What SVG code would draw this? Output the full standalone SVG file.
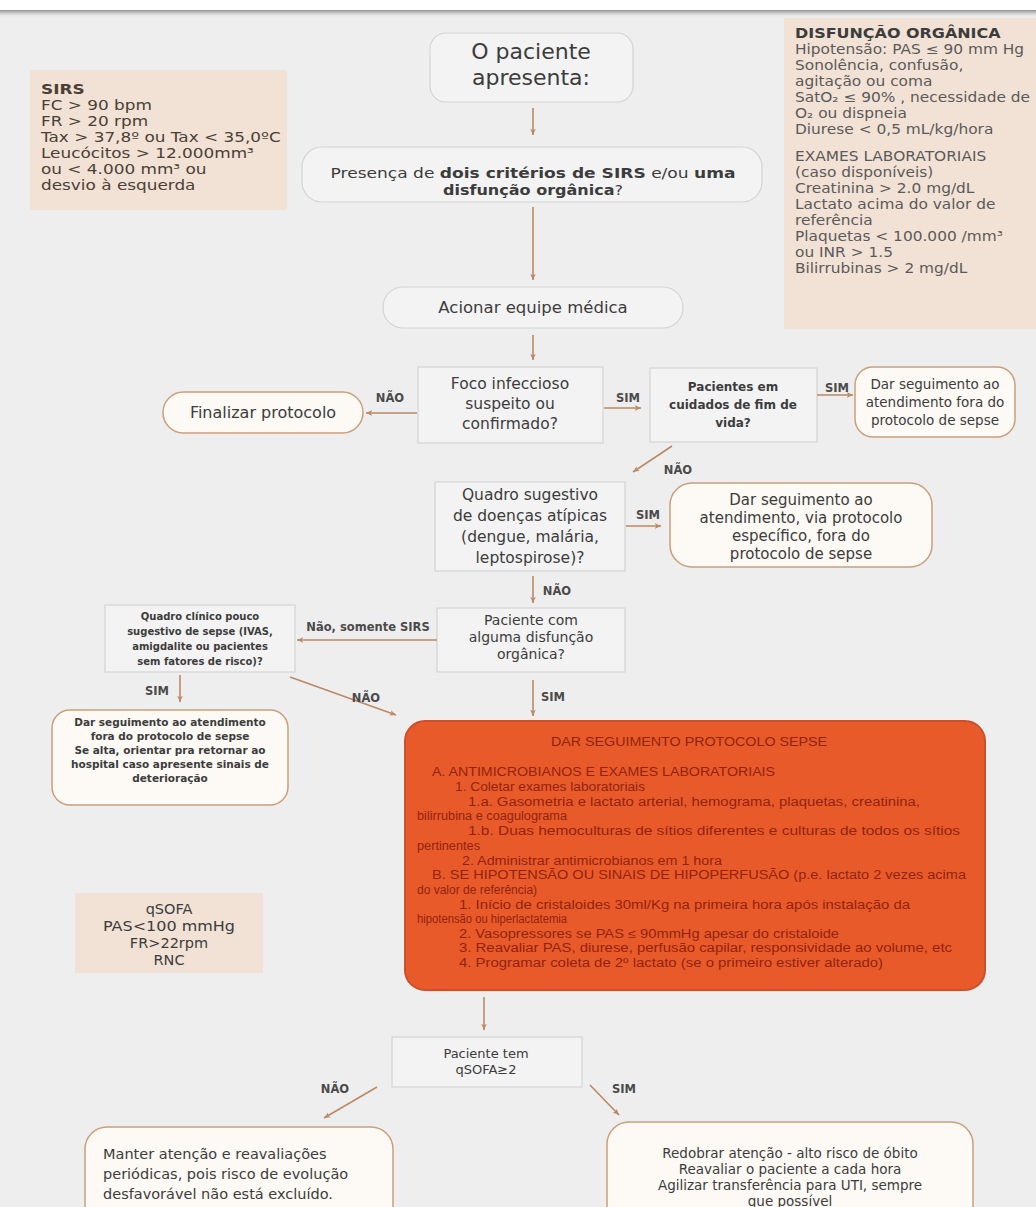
<svg xmlns="http://www.w3.org/2000/svg" width="1036" height="1207" viewBox="0 0 1036 1207">
<defs>
<linearGradient id="topshadow" x1="0" y1="0" x2="0" y2="1">
<stop offset="0" stop-color="#8e8e8e"/>
<stop offset="1" stop-color="#efeeee" stop-opacity="0"/>
</linearGradient>
<marker id="ah" viewBox="0 0 10 10" refX="9" refY="5" markerWidth="7" markerHeight="7" orient="auto" markerUnits="userSpaceOnUse">
<path d="M0,1 L9,5 L0,9 L2.5,5 Z" fill="#b98a66"/>
</marker>
<style>
.t{font-family:"DejaVu Sans","Liberation Sans",sans-serif;fill:#3c3c3c}
.c{text-anchor:middle}
.b{font-weight:700}
.lbl{font-family:"DejaVu Sans","Liberation Sans",sans-serif;font-weight:700;font-size:11.5px;fill:#4a4a4a;text-anchor:middle}
.gray{fill:#f3f3f3;stroke:#d4d4d4;stroke-width:1.2}
.cream{fill:#fdf9f4;stroke:#c9a07c;stroke-width:1.5}
.peach{fill:#f2e2d5}
.conn line{stroke:#b98a66;stroke-width:1.6;marker-end:url(#ah)}
.red{font-family:"Liberation Sans",Arial,sans-serif;font-size:12px;fill:#92230e}
.rt{font-family:"DejaVu Sans","Liberation Sans",sans-serif;fill:#5a5a5a;font-size:13.5px}
.st{font-family:"DejaVu Sans","Liberation Sans",sans-serif;fill:#4a4036;font-size:13.5px}
</style>
</defs>
<rect x="0" y="0" width="1036" height="1207" fill="#efeeee"/>
<rect x="0" y="0" width="1036" height="10" fill="#ffffff"/>
<rect x="0" y="10" width="1036" height="8" fill="url(#topshadow)"/>

<g id="sirs">
<rect class="peach" x="30" y="70" width="257" height="140"/>
<g transform="translate(41,0) scale(1.25,1)">
<text class="st b" x="0" y="94">SIRS</text>
<text class="st" x="0" y="110">FC &gt; 90 bpm</text>
<text class="st" x="0" y="126">FR &gt; 20 rpm</text>
<text class="st" x="0" y="142">Tax &gt; 37,8º ou Tax &lt; 35,0ºC</text>
<text class="st" x="0" y="158">Leucócitos &gt; 12.000mm³</text>
<text class="st" x="0" y="174">ou  &lt; 4.000 mm³ ou</text>
<text class="st" x="0" y="190">desvio à esquerda</text>
</g>
</g>

<g id="disfuncao">
<rect class="peach" x="784" y="18" width="252" height="311"/>
<g transform="translate(795,0) scale(1.14,1)">
<text class="t b" x="0" y="38" font-size="14" fill="#444">DISFUNÇÃO ORGÂNICA</text>
<text class="rt" x="0" y="54">Hipotensão: PAS ≤ 90 mm Hg</text>
<text class="rt" x="0" y="70">Sonolência, confusão,</text>
<text class="rt" x="0" y="86">agitação ou coma</text>
<text class="rt" x="0" y="102">SatO₂ ≤ 90% , necessidade de</text>
<text class="rt" x="0" y="118">O₂ ou dispneia</text>
<text class="rt" x="0" y="134">Diurese &lt; 0,5 mL/kg/hora</text>
<text class="rt" x="0" y="161">EXAMES LABORATORIAIS</text>
<text class="rt" x="0" y="177">(caso disponíveis)</text>
<text class="rt" x="0" y="193">Creatinina &gt; 2.0 mg/dL</text>
<text class="rt" x="0" y="209">Lactato acima do valor de</text>
<text class="rt" x="0" y="225">referência</text>
<text class="rt" x="0" y="241">Plaquetas &lt; 100.000 /mm³</text>
<text class="rt" x="0" y="257">ou INR &gt; 1.5</text>
<text class="rt" x="0" y="273">Bilirrubinas &gt; 2 mg/dL</text>
</g>
</g>

<g id="paciente">
<rect class="gray" x="430" y="33" width="203" height="69" rx="16"/>
<text class="t c" x="531" y="59" font-size="22">O paciente</text>
<text class="t c" x="531" y="85" font-size="22">apresenta:</text>
</g>

<g id="presenca">
<rect class="gray" x="302" y="147" width="460" height="55" rx="20"/>
<text class="t c" x="533" y="178" font-size="14.5" textLength="405" lengthAdjust="spacingAndGlyphs">Presença de <tspan class="b">dois critérios de SIRS</tspan> e/ou <tspan class="b">uma</tspan></text>
<text class="t c" x="533" y="195" font-size="14.5" textLength="180" lengthAdjust="spacingAndGlyphs"><tspan class="b">disfunção orgânica</tspan>?</text>
</g>

<g id="acionar">
<rect class="gray" x="383" y="287" width="300" height="41" rx="20"/>
<text class="t c" x="533" y="313" font-size="16.5">Acionar equipe médica</text>
</g>

<g id="foco">
<rect class="gray" x="418" y="367" width="185" height="76"/>
<text class="t c" x="510" y="389" font-size="15.5">Foco infeccioso</text>
<text class="t c" x="510" y="409" font-size="15.5">suspeito ou</text>
<text class="t c" x="510" y="429" font-size="15.5">confirmado?</text>
</g>

<g id="finalizar">
<rect class="cream" x="163" y="392" width="200" height="41" rx="20.5"/>
<text class="t c" x="263" y="418" font-size="16">Finalizar protocolo</text>
</g>

<g id="fimdevida">
<rect class="gray" x="650" y="368" width="167" height="74"/>
<text class="t c b" x="733" y="391" font-size="12">Pacientes em</text>
<text class="t c b" x="733" y="409" font-size="12">cuidados de fim de</text>
<text class="t c b" x="733" y="427" font-size="12">vida?</text>
</g>

<g id="seguimento1">
<rect class="cream" x="855" y="367" width="160" height="70" rx="18"/>
<text class="t c" x="935" y="389" font-size="13.5">Dar seguimento ao</text>
<text class="t c" x="935" y="407" font-size="13.5">atendimento fora do</text>
<text class="t c" x="935" y="425" font-size="13.5">protocolo de sepse</text>
</g>

<g id="atipicas">
<rect class="gray" x="435" y="482" width="190" height="89"/>
<text class="t c" x="530" y="500" font-size="15.5">Quadro  sugestivo</text>
<text class="t c" x="530" y="521" font-size="15.5">de doenças atípicas</text>
<text class="t c" x="530" y="542" font-size="15.5">(dengue, malária,</text>
<text class="t c" x="530" y="563" font-size="15.5">leptospirose)?</text>
</g>

<g id="seguimento2">
<rect class="cream" x="670" y="483" width="262" height="84" rx="22"/>
<text class="t c" x="801" y="505" font-size="15">Dar seguimento ao</text>
<text class="t c" x="801" y="523" font-size="15">atendimento, via protocolo</text>
<text class="t c" x="801" y="541" font-size="15">específico, fora do</text>
<text class="t c" x="801" y="559" font-size="15">protocolo de sepse</text>
</g>

<g id="disfuncao-q">
<rect class="gray" x="437" y="608" width="188" height="64"/>
<text class="t c" x="531" y="625" font-size="14">Paciente com</text>
<text class="t c" x="531" y="642" font-size="14">alguma disfunção</text>
<text class="t c" x="531" y="659" font-size="14">orgânica?</text>
</g>

<g id="pouco-sugestivo">
<rect class="gray" x="105" y="605" width="190" height="67"/>
<text class="t c b" x="200" y="620" font-size="10">Quadro clínico pouco</text>
<text class="t c b" x="200" y="635" font-size="10">sugestivo de sepse (IVAS,</text>
<text class="t c b" x="200" y="650" font-size="10">amigdalite ou pacientes</text>
<text class="t c b" x="200" y="665" font-size="10">sem fatores de risco)?</text>
</g>

<g id="seguimento3">
<rect class="cream" x="52" y="710" width="236" height="95" rx="18"/>
<text class="t c b" x="170" y="726" font-size="10.5">Dar seguimento ao atendimento</text>
<text class="t c b" x="170" y="740" font-size="10.5">fora do protocolo de sepse</text>
<text class="t c b" x="170" y="754" font-size="10.5">Se alta, orientar pra retornar ao</text>
<text class="t c b" x="170" y="768" font-size="10.5">hospital caso apresente sinais de</text>
<text class="t c b" x="170" y="782" font-size="10.5">deterioração</text>
</g>

<g id="protocolo-sepse">
<rect x="405" y="721" width="580" height="269" rx="20" fill="#e95a2b" stroke="#c8522c" stroke-width="2"/>
<text class="red" x="551" y="746" textLength="276" lengthAdjust="spacingAndGlyphs">DAR SEGUIMENTO PROTOCOLO SEPSE</text>
<text class="red" x="432" y="776" textLength="343" lengthAdjust="spacingAndGlyphs">A. ANTIMICROBIANOS E EXAMES LABORATORIAIS</text>
<text class="red" x="455" y="791" textLength="190" lengthAdjust="spacingAndGlyphs">1. Coletar exames laboratoriais</text>
<text class="red" x="468" y="806" textLength="452" lengthAdjust="spacingAndGlyphs">1.a. Gasometria e lactato arterial, hemograma, plaquetas, creatinina,</text>
<text class="red" x="417" y="820" textLength="150" lengthAdjust="spacingAndGlyphs">bilirrubina e coagulograma</text>
<text class="red" x="468" y="835" textLength="492" lengthAdjust="spacingAndGlyphs">1.b. Duas hemoculturas de sítios diferentes e culturas de todos os sítios</text>
<text class="red" x="417" y="850" textLength="63" lengthAdjust="spacingAndGlyphs">pertinentes</text>
<text class="red" x="462" y="865" textLength="260" lengthAdjust="spacingAndGlyphs">2. Administrar antimicrobianos em 1 hora</text>
<text class="red" x="432" y="879" textLength="534" lengthAdjust="spacingAndGlyphs">B. SE HIPOTENSÃO OU SINAIS DE HIPOPERFUSÃO (p.e. lactato 2 vezes acima</text>
<text class="red" x="417" y="894">do valor de referência)</text>
<text class="red" x="459" y="909" textLength="451" lengthAdjust="spacingAndGlyphs">1. Início de cristaloides 30ml/Kg na primeira hora após instalação da</text>
<text class="red" x="417" y="923" textLength="150" lengthAdjust="spacingAndGlyphs">hipotensão ou hiperlactatemia</text>
<text class="red" x="459" y="938" textLength="380" lengthAdjust="spacingAndGlyphs">2. Vasopressores se PAS ≤ 90mmHg apesar do cristaloide</text>
<text class="red" x="459" y="952" textLength="493" lengthAdjust="spacingAndGlyphs">3. Reavaliar PAS, diurese, perfusão capilar, responsividade ao volume, etc</text>
<text class="red" x="459" y="967" textLength="424" lengthAdjust="spacingAndGlyphs">4. Programar coleta de 2º lactato (se o primeiro estiver alterado)</text>
</g>

<g id="qsofa">
<rect class="peach" x="75" y="893" width="188" height="80"/>
<text class="t c" x="169" y="914" font-size="14.5">qSOFA</text>
<text class="t c" x="169" y="931" font-size="14.5" textLength="132" lengthAdjust="spacingAndGlyphs">PAS&lt;100 mmHg</text>
<text class="t c" x="169" y="948" font-size="14.5">FR&gt;22rpm</text>
<text class="t c" x="169" y="965" font-size="14.5">RNC</text>
</g>

<g id="qsofa-q">
<rect class="gray" x="392" y="1037" width="190" height="50"/>
<text class="t c" x="486" y="1058" font-size="13">Paciente tem</text>
<text class="t c" x="486" y="1074" font-size="13">qSOFA≥2</text>
</g>

<g id="manter">
<rect class="cream" x="85" y="1127" width="308" height="100" rx="22"/>
<text class="t" x="103" y="1159" font-size="14.5">Manter atenção e reavaliações</text>
<text class="t" x="103" y="1179" font-size="14.5">periódicas, pois risco de evolução</text>
<text class="t" x="103" y="1199" font-size="14.5">desfavorável não está excluído.</text>
</g>

<g id="redobrar">
<rect class="cream" x="607" y="1122" width="366" height="105" rx="22"/>
<text class="t c" x="790" y="1158" font-size="13.5">Redobrar atenção  - alto risco de óbito</text>
<text class="t c" x="790" y="1174" font-size="13.5">Reavaliar o paciente a cada  hora</text>
<text class="t c" x="790" y="1190" font-size="13.5">Agilizar transferência para UTI, sempre</text>
<text class="t c" x="790" y="1206" font-size="13.5">que possível</text>
</g>

<g id="connectors" class="conn">
<line x1="533" y1="108" x2="533" y2="135"/>
<line x1="533" y1="207" x2="533" y2="280"/>
<line x1="533" y1="335" x2="533" y2="360"/>
<line x1="417" y1="413" x2="366" y2="413"/>
<line x1="604" y1="408" x2="641" y2="408"/>
<line x1="817" y1="395" x2="853" y2="395"/>
<line x1="672" y1="446" x2="633" y2="472"/>
<line x1="626" y1="526" x2="661" y2="526"/>
<line x1="533" y1="576" x2="533" y2="603"/>
<line x1="437" y1="640" x2="297" y2="640"/>
<line x1="180" y1="675" x2="180" y2="702"/>
<line x1="290" y1="677" x2="396" y2="715"/>
<line x1="533" y1="680" x2="533" y2="716"/>
<line x1="484" y1="997" x2="484" y2="1030"/>
<line x1="377" y1="1087" x2="324" y2="1118"/>
<line x1="590" y1="1085" x2="619" y2="1115"/>
<text class="lbl" x="390" y="402">NÃO</text>
<text class="lbl" x="628" y="402">SIM</text>
<text class="lbl" x="837" y="392">SIM</text>
<text class="lbl" x="678" y="474">NÃO</text>
<text class="lbl" x="648" y="519">SIM</text>
<text class="lbl" x="557" y="595">NÃO</text>
<text class="lbl" x="368" y="631" font-size="10">Não, somente SIRS</text>
<text class="lbl" x="157" y="695">SIM</text>
<text class="lbl" x="366" y="702">NÃO</text>
<text class="lbl" x="553" y="701">SIM</text>
<text class="lbl" x="335" y="1093">NÃO</text>
<text class="lbl" x="624" y="1093">SIM</text>
</g>
</svg>
